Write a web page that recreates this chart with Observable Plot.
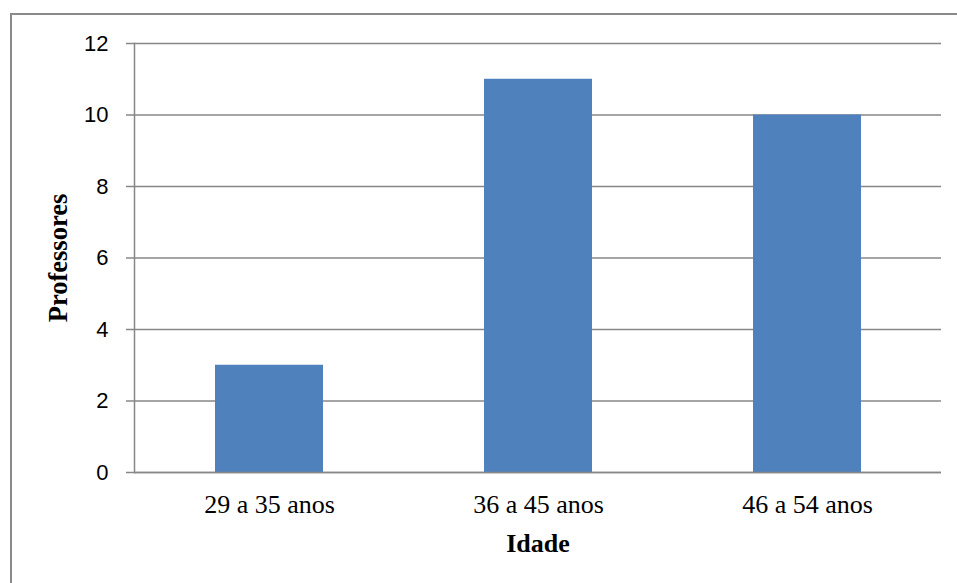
<!DOCTYPE html>
<html>
<head>
<meta charset="utf-8">
<script src="https://cdn.jsdelivr.net/npm/d3@7"></script>
<script src="https://cdn.jsdelivr.net/npm/@observablehq/plot@0.6"></script>
<style>
  html, body { margin: 0; padding: 0; background: #fff; }
  #wrap { position: relative; width: 957px; height: 583px; overflow: hidden; }
  #border { position: absolute; left: 10px; top: 13px; width: 960px; height: 600px;
            border-left: 2px solid #8a8a8a; border-top: 2px solid #8a8a8a; box-sizing: border-box; }
  #chart { position: absolute; left: 0; top: 0; }
</style>
</head>
<body>
<div id="wrap"><div id="border"></div><div id="chart"></div></div>
<script>
const categories = ["29 a 35 anos", "36 a 45 anos", "46 a 54 anos"];
const professores = [3, 11, 10];
const yTicks = [0, 2, 4, 6, 8, 10, 12];
const xTitle = "Idade";
const yTitle = "Professores";

const data = categories.map((c, i) => ({idade: c, n: professores[i]}));

const grey = "#878787";
const chart = Plot.plot({
  width: 957,
  height: 583,
  marginLeft: 134,
  marginRight: 16,
  marginTop: 43,
  marginBottom: 111,
  style: {background: "transparent", overflow: "visible"},
  x: {domain: categories, paddingInner: 0.6, paddingOuter: 0.3},
  y: {domain: [0, 12]},
  marks: [
    Plot.gridY(yTicks, {stroke: grey, strokeOpacity: 1, strokeWidth: 1.5}),
    Plot.barY(data, {x: "idade", y: "n", fill: "#4F81BD"}),
    Plot.ruleY([0], {stroke: grey, strokeWidth: 1.5}),
    Plot.frame({anchor: "left", stroke: grey, strokeWidth: 1.5}),
    Plot.axisY({ticks: yTicks, tickSize: 8, tickPadding: 18, stroke: grey, strokeWidth: 1.5,
                fontFamily: "Liberation Sans, Arial, sans-serif", fontSize: 22, label: null}),
    Plot.axisX({tickSize: 0, tickPadding: 22, fontFamily: "Liberation Serif, Times New Roman, serif",
                fontSize: 26, label: null}),
    Plot.text([xTitle], {frameAnchor: "bottom", dy: 79, text: d => d,
                fontFamily: "Liberation Serif, Times New Roman, serif", fontSize: 26, fontWeight: "bold", fill: "#000"}),
    Plot.text([yTitle], {frameAnchor: "left", textAnchor: "middle", dx: -76, rotate: -90, text: d => d,
                fontFamily: "Liberation Serif, Times New Roman, serif", fontSize: 26.5, fontWeight: "bold", fill: "#000"})
  ]
});
document.getElementById("chart").appendChild(chart);
</script>
</body>
</html>
